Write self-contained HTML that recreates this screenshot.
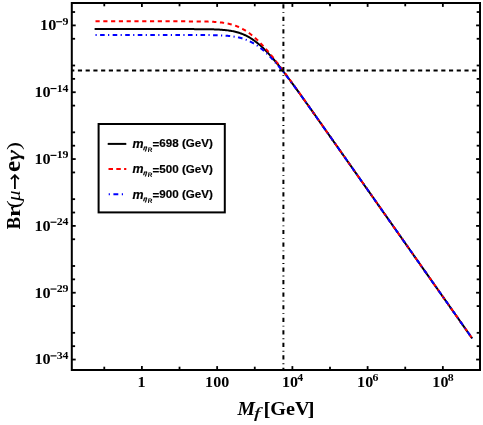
<!DOCTYPE html>
<html><head><meta charset="utf-8"><title>plot</title>
<style>
html,body{margin:0;padding:0;background:#fff;}
body{width:483px;height:425px;overflow:hidden;font-family:"Liberation Serif",serif;}
svg{display:block;will-change:transform;}
</style></head><body>
<svg width="483" height="425" viewBox="0 0 483 425">
<rect x="0" y="0" width="483" height="425" fill="#fff"/>
<defs><clipPath id="pc"><rect x="71.8" y="3.0" width="408.2" height="367.0"/></clipPath></defs>
<g clip-path="url(#pc)" fill="none">
<path d="M94.60,29.10 L95.54,29.10 L96.49,29.10 L97.43,29.10 L98.38,29.10 L99.32,29.10 L100.26,29.10 L101.21,29.10 L102.15,29.10 L103.10,29.10 L104.04,29.10 L104.98,29.10 L105.93,29.10 L106.87,29.10 L107.82,29.10 L108.76,29.10 L109.70,29.10 L110.65,29.10 L111.59,29.10 L112.54,29.10 L113.48,29.10 L114.42,29.10 L115.37,29.10 L116.31,29.10 L117.26,29.10 L118.20,29.10 L119.14,29.10 L120.09,29.10 L121.03,29.10 L121.98,29.10 L122.92,29.10 L123.86,29.10 L124.81,29.10 L125.75,29.10 L126.70,29.10 L127.64,29.10 L128.58,29.10 L129.53,29.10 L130.47,29.10 L131.42,29.10 L132.36,29.10 L133.30,29.10 L134.25,29.10 L135.19,29.10 L136.14,29.10 L137.08,29.10 L138.02,29.10 L138.97,29.10 L139.91,29.10 L140.86,29.10 L141.80,29.10 L142.74,29.10 L143.69,29.10 L144.63,29.10 L145.58,29.10 L146.52,29.10 L147.46,29.10 L148.41,29.10 L149.35,29.10 L150.30,29.10 L151.24,29.10 L152.18,29.10 L153.13,29.10 L154.07,29.10 L155.02,29.10 L155.96,29.10 L156.90,29.10 L157.85,29.10 L158.79,29.10 L159.74,29.10 L160.68,29.10 L161.62,29.10 L162.57,29.10 L163.51,29.10 L164.46,29.10 L165.40,29.10 L166.34,29.10 L167.29,29.10 L168.23,29.10 L169.18,29.10 L170.12,29.10 L171.06,29.10 L172.01,29.10 L172.95,29.10 L173.90,29.10 L174.84,29.10 L175.78,29.10 L176.73,29.10 L177.67,29.10 L178.62,29.10 L179.56,29.10 L180.50,29.10 L181.45,29.10 L182.39,29.10 L183.34,29.10 L184.28,29.10 L185.22,29.10 L186.17,29.11 L187.11,29.11 L188.06,29.11 L189.00,29.11 L189.94,29.11 L190.89,29.11 L191.83,29.12 L192.78,29.12 L193.72,29.12 L194.66,29.13 L195.61,29.13 L196.55,29.13 L197.50,29.14 L198.44,29.14 L199.38,29.15 L200.33,29.15 L201.27,29.16 L202.22,29.17 L203.16,29.18 L204.10,29.19 L205.05,29.20 L205.99,29.21 L206.94,29.22 L207.88,29.24 L208.82,29.26 L209.77,29.28 L210.71,29.30 L211.66,29.32 L212.60,29.34 L213.54,29.37 L214.49,29.40 L215.43,29.44 L216.38,29.48 L217.32,29.52 L218.26,29.57 L219.21,29.62 L220.15,29.68 L221.10,29.74 L222.04,29.81 L222.98,29.88 L223.93,29.97 L224.87,30.06 L225.82,30.16 L226.76,30.26 L227.70,30.38 L228.65,30.51 L229.59,30.65 L230.54,30.80 L231.48,30.96 L232.42,31.14 L233.37,31.33 L234.31,31.54 L235.26,31.76 L236.20,32.00 L237.14,32.25 L238.09,32.53 L239.03,32.82 L239.98,33.13 L240.92,33.46 L241.86,33.81 L242.81,34.19 L243.75,34.58 L244.70,35.00 L245.64,35.44 L246.58,35.91 L247.53,36.40 L248.47,36.91 L249.42,37.45 L250.36,38.01 L251.30,38.60 L252.25,39.21 L253.19,39.85 L254.14,40.52 L255.08,41.20 L256.02,41.92 L256.97,42.66 L257.91,43.42 L258.86,44.21 L259.80,45.02 L260.74,45.86 L261.69,46.72 L262.63,47.60 L263.58,48.50 L264.52,49.43 L265.46,50.37 L266.41,51.34 L267.35,52.33 L268.30,53.33 L269.24,54.36 L270.18,55.40 L271.13,56.46 L272.07,57.54 L273.02,58.63 L273.96,59.74 L274.90,60.86 L275.85,61.99 L276.79,63.14 L277.74,64.30 L278.68,65.47 L279.62,66.66 L280.57,67.85 L281.51,69.06 L282.46,70.27 L283.40,71.49 L284.34,72.73 L285.29,73.97 L286.23,75.21 L287.18,76.47 L288.12,77.73 L289.06,78.99 L290.01,80.26 L290.95,81.54 L291.90,82.82 L292.84,84.11 L293.78,85.40 L294.73,86.70 L295.67,88.00 L296.62,89.30 L297.56,90.60 L298.50,91.91 L299.45,93.22 L300.39,94.54 L301.34,95.85 L302.28,97.17 L303.22,98.49 L304.17,99.81 L305.11,101.14 L306.06,102.46 L307.00,103.79 L307.94,105.12 L308.89,106.45 L309.83,107.78 L310.78,109.11 L311.72,110.44 L312.66,111.77 L313.61,113.11 L314.55,114.44 L315.50,115.78 L316.44,117.11 L317.38,118.45 L318.33,119.78 L319.27,121.12 L320.22,122.46 L321.16,123.80 L322.10,125.13 L323.05,126.47 L323.99,127.81 L324.94,129.15 L325.88,130.49 L326.82,131.83 L327.77,133.17 L328.71,134.51 L329.66,135.85 L330.60,137.19 L331.54,138.53 L332.49,139.87 L333.43,141.21 L334.38,142.55 L335.32,143.89 L336.26,145.23 L337.21,146.57 L338.15,147.92 L339.10,149.26 L340.04,150.60 L340.98,151.94 L341.93,153.28 L342.87,154.62 L343.82,155.96 L344.76,157.30 L345.70,158.64 L346.65,159.99 L347.59,161.33 L348.54,162.67 L349.48,164.01 L350.42,165.35 L351.37,166.69 L352.31,168.03 L353.26,169.38 L354.20,170.72 L355.14,172.06 L356.09,173.40 L357.03,174.74 L357.98,176.08 L358.92,177.42 L359.86,178.77 L360.81,180.11 L361.75,181.45 L362.70,182.79 L363.64,184.13 L364.58,185.47 L365.53,186.82 L366.47,188.16 L367.42,189.50 L368.36,190.84 L369.30,192.18 L370.25,193.52 L371.19,194.86 L372.14,196.21 L373.08,197.55 L374.02,198.89 L374.97,200.23 L375.91,201.57 L376.86,202.91 L377.80,204.26 L378.74,205.60 L379.69,206.94 L380.63,208.28 L381.58,209.62 L382.52,210.96 L383.46,212.31 L384.41,213.65 L385.35,214.99 L386.30,216.33 L387.24,217.67 L388.18,219.01 L389.13,220.35 L390.07,221.70 L391.02,223.04 L391.96,224.38 L392.90,225.72 L393.85,227.06 L394.79,228.40 L395.74,229.75 L396.68,231.09 L397.62,232.43 L398.57,233.77 L399.51,235.11 L400.46,236.45 L401.40,237.80 L402.34,239.14 L403.29,240.48 L404.23,241.82 L405.18,243.16 L406.12,244.50 L407.06,245.84 L408.01,247.19 L408.95,248.53 L409.90,249.87 L410.84,251.21 L411.78,252.55 L412.73,253.89 L413.67,255.24 L414.62,256.58 L415.56,257.92 L416.50,259.26 L417.45,260.60 L418.39,261.94 L419.34,263.29 L420.28,264.63 L421.22,265.97 L422.17,267.31 L423.11,268.65 L424.06,269.99 L425.00,271.33 L425.94,272.68 L426.89,274.02 L427.83,275.36 L428.78,276.70 L429.72,278.04 L430.66,279.38 L431.61,280.73 L432.55,282.07 L433.50,283.41 L434.44,284.75 L435.38,286.09 L436.33,287.43 L437.27,288.77 L438.22,290.12 L439.16,291.46 L440.10,292.80 L441.05,294.14 L441.99,295.48 L442.94,296.82 L443.88,298.17 L444.82,299.51 L445.77,300.85 L446.71,302.19 L447.66,303.53 L448.60,304.87 L449.54,306.22 L450.49,307.56 L451.43,308.90 L452.38,310.24 L453.32,311.58 L454.26,312.92 L455.21,314.26 L456.15,315.61 L457.10,316.95 L458.04,318.29 L458.98,319.63 L459.93,320.97 L460.87,322.31 L461.82,323.66 L462.76,325.00 L463.70,326.34 L464.65,327.68 L465.59,329.02 L466.54,330.36 L467.48,331.71 L468.42,333.05 L469.37,334.39 L470.31,335.73 L471.26,337.07 L472.20,338.41" stroke="#000" stroke-width="2" stroke-linejoin="round"/>
<path d="M94.60,21.35 L95.54,21.35 L96.49,21.35 L97.43,21.35 L98.38,21.35 L99.32,21.35 L100.26,21.35 L101.21,21.35 L102.15,21.35 L103.10,21.35 L104.04,21.35 L104.98,21.35 L105.93,21.35 L106.87,21.35 L107.82,21.35 L108.76,21.35 L109.70,21.35 L110.65,21.35 L111.59,21.35 L112.54,21.35 L113.48,21.35 L114.42,21.35 L115.37,21.35 L116.31,21.35 L117.26,21.35 L118.20,21.35 L119.14,21.35 L120.09,21.35 L121.03,21.35 L121.98,21.35 L122.92,21.35 L123.86,21.35 L124.81,21.35 L125.75,21.35 L126.70,21.35 L127.64,21.35 L128.58,21.35 L129.53,21.35 L130.47,21.35 L131.42,21.35 L132.36,21.35 L133.30,21.35 L134.25,21.35 L135.19,21.35 L136.14,21.35 L137.08,21.35 L138.02,21.35 L138.97,21.35 L139.91,21.35 L140.86,21.35 L141.80,21.35 L142.74,21.35 L143.69,21.35 L144.63,21.35 L145.58,21.35 L146.52,21.35 L147.46,21.35 L148.41,21.35 L149.35,21.35 L150.30,21.35 L151.24,21.35 L152.18,21.35 L153.13,21.35 L154.07,21.35 L155.02,21.35 L155.96,21.35 L156.90,21.35 L157.85,21.35 L158.79,21.35 L159.74,21.35 L160.68,21.35 L161.62,21.35 L162.57,21.35 L163.51,21.35 L164.46,21.35 L165.40,21.35 L166.34,21.35 L167.29,21.35 L168.23,21.35 L169.18,21.35 L170.12,21.35 L171.06,21.35 L172.01,21.35 L172.95,21.35 L173.90,21.35 L174.84,21.35 L175.78,21.36 L176.73,21.36 L177.67,21.36 L178.62,21.36 L179.56,21.36 L180.50,21.36 L181.45,21.36 L182.39,21.36 L183.34,21.36 L184.28,21.37 L185.22,21.37 L186.17,21.37 L187.11,21.37 L188.06,21.38 L189.00,21.38 L189.94,21.38 L190.89,21.39 L191.83,21.39 L192.78,21.40 L193.72,21.40 L194.66,21.41 L195.61,21.41 L196.55,21.42 L197.50,21.43 L198.44,21.44 L199.38,21.45 L200.33,21.46 L201.27,21.48 L202.22,21.49 L203.16,21.51 L204.10,21.52 L205.05,21.54 L205.99,21.57 L206.94,21.59 L207.88,21.62 L208.82,21.65 L209.77,21.69 L210.71,21.72 L211.66,21.76 L212.60,21.81 L213.54,21.86 L214.49,21.92 L215.43,21.98 L216.38,22.05 L217.32,22.12 L218.26,22.20 L219.21,22.29 L220.15,22.39 L221.10,22.49 L222.04,22.61 L222.98,22.73 L223.93,22.87 L224.87,23.02 L225.82,23.18 L226.76,23.35 L227.70,23.54 L228.65,23.74 L229.59,23.96 L230.54,24.20 L231.48,24.45 L232.42,24.72 L233.37,25.00 L234.31,25.31 L235.26,25.64 L236.20,25.99 L237.14,26.35 L238.09,26.74 L239.03,27.16 L239.98,27.59 L240.92,28.05 L241.86,28.54 L242.81,29.05 L243.75,29.58 L244.70,30.14 L245.64,30.72 L246.58,31.33 L247.53,31.96 L248.47,32.62 L249.42,33.30 L250.36,34.01 L251.30,34.74 L252.25,35.50 L253.19,36.28 L254.14,37.09 L255.08,37.92 L256.02,38.77 L256.97,39.65 L257.91,40.55 L258.86,41.47 L259.80,42.41 L260.74,43.38 L261.69,44.36 L262.63,45.36 L263.58,46.38 L264.52,47.42 L265.46,48.47 L266.41,49.55 L267.35,50.64 L268.30,51.74 L269.24,52.86 L270.18,53.99 L271.13,55.13 L272.07,56.29 L273.02,57.46 L273.96,58.64 L274.90,59.84 L275.85,61.04 L276.79,62.25 L277.74,63.47 L278.68,64.70 L279.62,65.94 L280.57,67.18 L281.51,68.44 L282.46,69.69 L283.40,70.96 L284.34,72.23 L285.29,73.51 L286.23,74.79 L287.18,76.07 L288.12,77.36 L289.06,78.66 L290.01,79.96 L290.95,81.26 L291.90,82.56 L292.84,83.87 L293.78,85.18 L294.73,86.49 L295.67,87.81 L296.62,89.13 L297.56,90.45 L298.50,91.77 L299.45,93.09 L300.39,94.42 L301.34,95.74 L302.28,97.07 L303.22,98.40 L304.17,99.73 L305.11,101.06 L306.06,102.39 L307.00,103.72 L307.94,105.06 L308.89,106.39 L309.83,107.73 L310.78,109.06 L311.72,110.40 L312.66,111.74 L313.61,113.07 L314.55,114.41 L315.50,115.75 L316.44,117.09 L317.38,118.42 L318.33,119.76 L319.27,121.10 L320.22,122.44 L321.16,123.78 L322.10,125.12 L323.05,126.46 L323.99,127.80 L324.94,129.14 L325.88,130.48 L326.82,131.82 L327.77,133.16 L328.71,134.50 L329.66,135.84 L330.60,137.18 L331.54,138.53 L332.49,139.87 L333.43,141.21 L334.38,142.55 L335.32,143.89 L336.26,145.23 L337.21,146.57 L338.15,147.91 L339.10,149.25 L340.04,150.60 L340.98,151.94 L341.93,153.28 L342.87,154.62 L343.82,155.96 L344.76,157.30 L345.70,158.64 L346.65,159.99 L347.59,161.33 L348.54,162.67 L349.48,164.01 L350.42,165.35 L351.37,166.69 L352.31,168.03 L353.26,169.38 L354.20,170.72 L355.14,172.06 L356.09,173.40 L357.03,174.74 L357.98,176.08 L358.92,177.42 L359.86,178.77 L360.81,180.11 L361.75,181.45 L362.70,182.79 L363.64,184.13 L364.58,185.47 L365.53,186.82 L366.47,188.16 L367.42,189.50 L368.36,190.84 L369.30,192.18 L370.25,193.52 L371.19,194.86 L372.14,196.21 L373.08,197.55 L374.02,198.89 L374.97,200.23 L375.91,201.57 L376.86,202.91 L377.80,204.26 L378.74,205.60 L379.69,206.94 L380.63,208.28 L381.58,209.62 L382.52,210.96 L383.46,212.31 L384.41,213.65 L385.35,214.99 L386.30,216.33 L387.24,217.67 L388.18,219.01 L389.13,220.35 L390.07,221.70 L391.02,223.04 L391.96,224.38 L392.90,225.72 L393.85,227.06 L394.79,228.40 L395.74,229.75 L396.68,231.09 L397.62,232.43 L398.57,233.77 L399.51,235.11 L400.46,236.45 L401.40,237.80 L402.34,239.14 L403.29,240.48 L404.23,241.82 L405.18,243.16 L406.12,244.50 L407.06,245.84 L408.01,247.19 L408.95,248.53 L409.90,249.87 L410.84,251.21 L411.78,252.55 L412.73,253.89 L413.67,255.24 L414.62,256.58 L415.56,257.92 L416.50,259.26 L417.45,260.60 L418.39,261.94 L419.34,263.29 L420.28,264.63 L421.22,265.97 L422.17,267.31 L423.11,268.65 L424.06,269.99 L425.00,271.33 L425.94,272.68 L426.89,274.02 L427.83,275.36 L428.78,276.70 L429.72,278.04 L430.66,279.38 L431.61,280.73 L432.55,282.07 L433.50,283.41 L434.44,284.75 L435.38,286.09 L436.33,287.43 L437.27,288.77 L438.22,290.12 L439.16,291.46 L440.10,292.80 L441.05,294.14 L441.99,295.48 L442.94,296.82 L443.88,298.17 L444.82,299.51 L445.77,300.85 L446.71,302.19 L447.66,303.53 L448.60,304.87 L449.54,306.22 L450.49,307.56 L451.43,308.90 L452.38,310.24 L453.32,311.58 L454.26,312.92 L455.21,314.26 L456.15,315.61 L457.10,316.95 L458.04,318.29 L458.98,319.63 L459.93,320.97 L460.87,322.31 L461.82,323.66 L462.76,325.00 L463.70,326.34 L464.65,327.68 L465.59,329.02 L466.54,330.36 L467.48,331.71 L468.42,333.05 L469.37,334.39 L470.31,335.73 L471.26,337.07 L472.20,338.41" stroke="#f00" stroke-width="2" stroke-dasharray="4.2 3.58" stroke-dashoffset="-0.9" stroke-linejoin="round"/>
<path d="M94.60,35.00 L95.54,35.00 L96.49,35.00 L97.43,35.00 L98.38,35.00 L99.32,35.00 L100.26,35.00 L101.21,35.00 L102.15,35.00 L103.10,35.00 L104.04,35.00 L104.98,35.00 L105.93,35.00 L106.87,35.00 L107.82,35.00 L108.76,35.00 L109.70,35.00 L110.65,35.00 L111.59,35.00 L112.54,35.00 L113.48,35.00 L114.42,35.00 L115.37,35.00 L116.31,35.00 L117.26,35.00 L118.20,35.00 L119.14,35.00 L120.09,35.00 L121.03,35.00 L121.98,35.00 L122.92,35.00 L123.86,35.00 L124.81,35.00 L125.75,35.00 L126.70,35.00 L127.64,35.00 L128.58,35.00 L129.53,35.00 L130.47,35.00 L131.42,35.00 L132.36,35.00 L133.30,35.00 L134.25,35.00 L135.19,35.00 L136.14,35.00 L137.08,35.00 L138.02,35.00 L138.97,35.00 L139.91,35.00 L140.86,35.00 L141.80,35.00 L142.74,35.00 L143.69,35.00 L144.63,35.00 L145.58,35.00 L146.52,35.00 L147.46,35.00 L148.41,35.00 L149.35,35.00 L150.30,35.00 L151.24,35.00 L152.18,35.00 L153.13,35.00 L154.07,35.00 L155.02,35.00 L155.96,35.00 L156.90,35.00 L157.85,35.00 L158.79,35.00 L159.74,35.00 L160.68,35.00 L161.62,35.00 L162.57,35.00 L163.51,35.00 L164.46,35.00 L165.40,35.00 L166.34,35.00 L167.29,35.00 L168.23,35.00 L169.18,35.00 L170.12,35.00 L171.06,35.00 L172.01,35.00 L172.95,35.00 L173.90,35.00 L174.84,35.00 L175.78,35.00 L176.73,35.00 L177.67,35.00 L178.62,35.00 L179.56,35.00 L180.50,35.00 L181.45,35.00 L182.39,35.00 L183.34,35.00 L184.28,35.00 L185.22,35.00 L186.17,35.00 L187.11,35.00 L188.06,35.01 L189.00,35.01 L189.94,35.01 L190.89,35.01 L191.83,35.01 L192.78,35.01 L193.72,35.01 L194.66,35.02 L195.61,35.02 L196.55,35.02 L197.50,35.02 L198.44,35.03 L199.38,35.03 L200.33,35.03 L201.27,35.04 L202.22,35.04 L203.16,35.05 L204.10,35.05 L205.05,35.06 L205.99,35.07 L206.94,35.08 L207.88,35.09 L208.82,35.10 L209.77,35.11 L210.71,35.12 L211.66,35.14 L212.60,35.15 L213.54,35.17 L214.49,35.19 L215.43,35.21 L216.38,35.24 L217.32,35.26 L218.26,35.29 L219.21,35.33 L220.15,35.36 L221.10,35.40 L222.04,35.45 L222.98,35.50 L223.93,35.55 L224.87,35.61 L225.82,35.68 L226.76,35.75 L227.70,35.83 L228.65,35.92 L229.59,36.02 L230.54,36.12 L231.48,36.24 L232.42,36.36 L233.37,36.49 L234.31,36.64 L235.26,36.80 L236.20,36.97 L237.14,37.16 L238.09,37.36 L239.03,37.57 L239.98,37.80 L240.92,38.05 L241.86,38.32 L242.81,38.60 L243.75,38.90 L244.70,39.23 L245.64,39.57 L246.58,39.94 L247.53,40.32 L248.47,40.73 L249.42,41.16 L250.36,41.62 L251.30,42.10 L252.25,42.60 L253.19,43.13 L254.14,43.68 L255.08,44.26 L256.02,44.87 L256.97,45.50 L257.91,46.15 L258.86,46.83 L259.80,47.53 L260.74,48.26 L261.69,49.02 L262.63,49.79 L263.58,50.60 L264.52,51.42 L265.46,52.27 L266.41,53.15 L267.35,54.04 L268.30,54.96 L269.24,55.90 L270.18,56.86 L271.13,57.83 L272.07,58.83 L273.02,59.85 L273.96,60.89 L274.90,61.94 L275.85,63.01 L276.79,64.09 L277.74,65.19 L278.68,66.31 L279.62,67.44 L280.57,68.58 L281.51,69.74 L282.46,70.91 L283.40,72.09 L284.34,73.28 L285.29,74.48 L286.23,75.69 L287.18,76.91 L288.12,78.14 L289.06,79.37 L290.01,80.62 L290.95,81.87 L291.90,83.12 L292.84,84.39 L293.78,85.66 L294.73,86.93 L295.67,88.21 L296.62,89.50 L297.56,90.79 L298.50,92.08 L299.45,93.38 L300.39,94.68 L301.34,95.98 L302.28,97.29 L303.22,98.60 L304.17,99.91 L305.11,101.23 L306.06,102.55 L307.00,103.87 L307.94,105.19 L308.89,106.51 L309.83,107.84 L310.78,109.16 L311.72,110.49 L312.66,111.82 L313.61,113.15 L314.55,114.48 L315.50,115.81 L316.44,117.14 L317.38,118.48 L318.33,119.81 L319.27,121.14 L320.22,122.48 L321.16,123.82 L322.10,125.15 L323.05,126.49 L323.99,127.83 L324.94,129.16 L325.88,130.50 L326.82,131.84 L327.77,133.18 L328.71,134.52 L329.66,135.86 L330.60,137.20 L331.54,138.54 L332.49,139.88 L333.43,141.22 L334.38,142.56 L335.32,143.90 L336.26,145.24 L337.21,146.58 L338.15,147.92 L339.10,149.26 L340.04,150.60 L340.98,151.94 L341.93,153.28 L342.87,154.62 L343.82,155.96 L344.76,157.31 L345.70,158.65 L346.65,159.99 L347.59,161.33 L348.54,162.67 L349.48,164.01 L350.42,165.35 L351.37,166.69 L352.31,168.04 L353.26,169.38 L354.20,170.72 L355.14,172.06 L356.09,173.40 L357.03,174.74 L357.98,176.08 L358.92,177.43 L359.86,178.77 L360.81,180.11 L361.75,181.45 L362.70,182.79 L363.64,184.13 L364.58,185.47 L365.53,186.82 L366.47,188.16 L367.42,189.50 L368.36,190.84 L369.30,192.18 L370.25,193.52 L371.19,194.87 L372.14,196.21 L373.08,197.55 L374.02,198.89 L374.97,200.23 L375.91,201.57 L376.86,202.91 L377.80,204.26 L378.74,205.60 L379.69,206.94 L380.63,208.28 L381.58,209.62 L382.52,210.96 L383.46,212.31 L384.41,213.65 L385.35,214.99 L386.30,216.33 L387.24,217.67 L388.18,219.01 L389.13,220.35 L390.07,221.70 L391.02,223.04 L391.96,224.38 L392.90,225.72 L393.85,227.06 L394.79,228.40 L395.74,229.75 L396.68,231.09 L397.62,232.43 L398.57,233.77 L399.51,235.11 L400.46,236.45 L401.40,237.80 L402.34,239.14 L403.29,240.48 L404.23,241.82 L405.18,243.16 L406.12,244.50 L407.06,245.84 L408.01,247.19 L408.95,248.53 L409.90,249.87 L410.84,251.21 L411.78,252.55 L412.73,253.89 L413.67,255.24 L414.62,256.58 L415.56,257.92 L416.50,259.26 L417.45,260.60 L418.39,261.94 L419.34,263.29 L420.28,264.63 L421.22,265.97 L422.17,267.31 L423.11,268.65 L424.06,269.99 L425.00,271.33 L425.94,272.68 L426.89,274.02 L427.83,275.36 L428.78,276.70 L429.72,278.04 L430.66,279.38 L431.61,280.73 L432.55,282.07 L433.50,283.41 L434.44,284.75 L435.38,286.09 L436.33,287.43 L437.27,288.77 L438.22,290.12 L439.16,291.46 L440.10,292.80 L441.05,294.14 L441.99,295.48 L442.94,296.82 L443.88,298.17 L444.82,299.51 L445.77,300.85 L446.71,302.19 L447.66,303.53 L448.60,304.87 L449.54,306.22 L450.49,307.56 L451.43,308.90 L452.38,310.24 L453.32,311.58 L454.26,312.92 L455.21,314.26 L456.15,315.61 L457.10,316.95 L458.04,318.29 L458.98,319.63 L459.93,320.97 L460.87,322.31 L461.82,323.66 L462.76,325.00 L463.70,326.34 L464.65,327.68 L465.59,329.02 L466.54,330.36 L467.48,331.71 L468.42,333.05 L469.37,334.39 L470.31,335.73 L471.26,337.07 L472.20,338.41" stroke="#00f" stroke-width="2" stroke-dasharray="1.2 3.4 4.6 3.35" stroke-dashoffset="-0.9" stroke-linejoin="round"/>
<line x1="70.17" y1="70.5" x2="480.0" y2="70.5" stroke="#000" stroke-width="2" stroke-dasharray="4.15 3.581"/>
<line x1="283.4" y1="-8.34" x2="283.4" y2="370.0" stroke="#000" stroke-width="2" stroke-dasharray="4.2 3.8 0.9 3.64"/>
</g>
<rect x="98.6" y="124" width="126.2" height="88.4" fill="#fff" stroke="#000" stroke-width="2"/><line x1="107.7" y1="143.9" x2="126.3" y2="143.9" stroke="#000" stroke-width="2"/><text x="132.4" y="147.70" font-family="Liberation Sans, sans-serif" font-weight="bold" font-size="12.4" font-style="italic" stroke="#000" stroke-width="0.2">m</text><text transform="translate(142.7,149.90) skewX(-18)" font-family="Liberation Sans, sans-serif" font-weight="bold" font-size="6.4" stroke="#000" stroke-width="0.3">η</text><text transform="translate(147.4,151.60) skewX(-6)" font-family="Liberation Sans, sans-serif" font-weight="bold" font-size="6.5">R</text><text x="152.6" y="148.00" font-family="Liberation Sans, sans-serif" font-weight="bold" font-size="11.6" stroke="#000" stroke-width="0.18">=</text><text x="159.37" y="147.20" font-family="Liberation Sans, sans-serif" font-weight="bold" font-size="11.6" stroke="#000" stroke-width="0.18">698 (GeV)</text><line x1="107.7" y1="169.0" x2="126.3" y2="169.0" stroke="#f00" stroke-width="2" stroke-dasharray="4.5 3.3" stroke-dashoffset="-0.8"/><text x="132.4" y="173.20" font-family="Liberation Sans, sans-serif" font-weight="bold" font-size="12.4" font-style="italic" stroke="#000" stroke-width="0.2">m</text><text transform="translate(142.7,175.40) skewX(-18)" font-family="Liberation Sans, sans-serif" font-weight="bold" font-size="6.4" stroke="#000" stroke-width="0.3">η</text><text transform="translate(147.4,177.10) skewX(-6)" font-family="Liberation Sans, sans-serif" font-weight="bold" font-size="6.5">R</text><text x="152.6" y="173.50" font-family="Liberation Sans, sans-serif" font-weight="bold" font-size="11.6" stroke="#000" stroke-width="0.18">=</text><text x="159.37" y="172.70" font-family="Liberation Sans, sans-serif" font-weight="bold" font-size="11.6" stroke="#000" stroke-width="0.18">500 (GeV)</text><line x1="107.7" y1="194.3" x2="126.3" y2="194.3" stroke="#00f" stroke-width="2" stroke-dasharray="1.2 3.5 4.9 3.5" stroke-dashoffset="-1.0"/><text x="132.4" y="198.70" font-family="Liberation Sans, sans-serif" font-weight="bold" font-size="12.4" font-style="italic" stroke="#000" stroke-width="0.2">m</text><text transform="translate(142.7,200.90) skewX(-18)" font-family="Liberation Sans, sans-serif" font-weight="bold" font-size="6.4" stroke="#000" stroke-width="0.3">η</text><text transform="translate(147.4,202.60) skewX(-6)" font-family="Liberation Sans, sans-serif" font-weight="bold" font-size="6.5">R</text><text x="152.6" y="199.00" font-family="Liberation Sans, sans-serif" font-weight="bold" font-size="11.6" stroke="#000" stroke-width="0.18">=</text><text x="159.37" y="198.20" font-family="Liberation Sans, sans-serif" font-weight="bold" font-size="11.6" stroke="#000" stroke-width="0.18">900 (GeV)</text>
<line x1="71.80" y1="359.55" x2="75.70" y2="359.55" stroke="#000" stroke-width="1.8"/><line x1="480.00" y1="359.55" x2="476.10" y2="359.55" stroke="#000" stroke-width="1.8"/><line x1="71.80" y1="346.18" x2="75.10" y2="346.18" stroke="#000" stroke-width="1.8"/><line x1="480.00" y1="346.18" x2="476.70" y2="346.18" stroke="#000" stroke-width="1.8"/><line x1="71.80" y1="332.82" x2="75.10" y2="332.82" stroke="#000" stroke-width="1.8"/><line x1="480.00" y1="332.82" x2="476.70" y2="332.82" stroke="#000" stroke-width="1.8"/><line x1="71.80" y1="306.09" x2="75.10" y2="306.09" stroke="#000" stroke-width="1.8"/><line x1="480.00" y1="306.09" x2="476.70" y2="306.09" stroke="#000" stroke-width="1.8"/><line x1="71.80" y1="292.72" x2="75.70" y2="292.72" stroke="#000" stroke-width="1.8"/><line x1="480.00" y1="292.72" x2="476.10" y2="292.72" stroke="#000" stroke-width="1.8"/><line x1="71.80" y1="279.35" x2="75.10" y2="279.35" stroke="#000" stroke-width="1.8"/><line x1="480.00" y1="279.35" x2="476.70" y2="279.35" stroke="#000" stroke-width="1.8"/><line x1="71.80" y1="265.99" x2="75.10" y2="265.99" stroke="#000" stroke-width="1.8"/><line x1="480.00" y1="265.99" x2="476.70" y2="265.99" stroke="#000" stroke-width="1.8"/><line x1="71.80" y1="239.26" x2="75.10" y2="239.26" stroke="#000" stroke-width="1.8"/><line x1="480.00" y1="239.26" x2="476.70" y2="239.26" stroke="#000" stroke-width="1.8"/><line x1="71.80" y1="225.89" x2="75.70" y2="225.89" stroke="#000" stroke-width="1.8"/><line x1="480.00" y1="225.89" x2="476.10" y2="225.89" stroke="#000" stroke-width="1.8"/><line x1="71.80" y1="212.52" x2="75.10" y2="212.52" stroke="#000" stroke-width="1.8"/><line x1="480.00" y1="212.52" x2="476.70" y2="212.52" stroke="#000" stroke-width="1.8"/><line x1="71.80" y1="199.16" x2="75.10" y2="199.16" stroke="#000" stroke-width="1.8"/><line x1="480.00" y1="199.16" x2="476.70" y2="199.16" stroke="#000" stroke-width="1.8"/><line x1="71.80" y1="172.43" x2="75.10" y2="172.43" stroke="#000" stroke-width="1.8"/><line x1="480.00" y1="172.43" x2="476.70" y2="172.43" stroke="#000" stroke-width="1.8"/><line x1="71.80" y1="159.06" x2="75.70" y2="159.06" stroke="#000" stroke-width="1.8"/><line x1="480.00" y1="159.06" x2="476.10" y2="159.06" stroke="#000" stroke-width="1.8"/><line x1="71.80" y1="145.69" x2="75.10" y2="145.69" stroke="#000" stroke-width="1.8"/><line x1="480.00" y1="145.69" x2="476.70" y2="145.69" stroke="#000" stroke-width="1.8"/><line x1="71.80" y1="132.33" x2="75.10" y2="132.33" stroke="#000" stroke-width="1.8"/><line x1="480.00" y1="132.33" x2="476.70" y2="132.33" stroke="#000" stroke-width="1.8"/><line x1="71.80" y1="105.60" x2="75.10" y2="105.60" stroke="#000" stroke-width="1.8"/><line x1="480.00" y1="105.60" x2="476.70" y2="105.60" stroke="#000" stroke-width="1.8"/><line x1="71.80" y1="92.23" x2="75.70" y2="92.23" stroke="#000" stroke-width="1.8"/><line x1="480.00" y1="92.23" x2="476.10" y2="92.23" stroke="#000" stroke-width="1.8"/><line x1="71.80" y1="78.86" x2="75.10" y2="78.86" stroke="#000" stroke-width="1.8"/><line x1="480.00" y1="78.86" x2="476.70" y2="78.86" stroke="#000" stroke-width="1.8"/><line x1="71.80" y1="65.50" x2="75.10" y2="65.50" stroke="#000" stroke-width="1.8"/><line x1="480.00" y1="65.50" x2="476.70" y2="65.50" stroke="#000" stroke-width="1.8"/><line x1="71.80" y1="38.77" x2="75.10" y2="38.77" stroke="#000" stroke-width="1.8"/><line x1="480.00" y1="38.77" x2="476.70" y2="38.77" stroke="#000" stroke-width="1.8"/><line x1="71.80" y1="25.40" x2="75.70" y2="25.40" stroke="#000" stroke-width="1.8"/><line x1="480.00" y1="25.40" x2="476.10" y2="25.40" stroke="#000" stroke-width="1.8"/><line x1="71.80" y1="12.03" x2="75.10" y2="12.03" stroke="#000" stroke-width="1.8"/><line x1="480.00" y1="12.03" x2="476.70" y2="12.03" stroke="#000" stroke-width="1.8"/><line x1="104.28" y1="370.00" x2="104.28" y2="366.70" stroke="#000" stroke-width="1.8"/><line x1="104.28" y1="3.00" x2="104.28" y2="6.30" stroke="#000" stroke-width="1.8"/><line x1="141.90" y1="370.00" x2="141.90" y2="366.10" stroke="#000" stroke-width="1.8"/><line x1="141.90" y1="3.00" x2="141.90" y2="6.90" stroke="#000" stroke-width="1.8"/><line x1="179.52" y1="370.00" x2="179.52" y2="366.70" stroke="#000" stroke-width="1.8"/><line x1="179.52" y1="3.00" x2="179.52" y2="6.30" stroke="#000" stroke-width="1.8"/><line x1="217.14" y1="370.00" x2="217.14" y2="366.10" stroke="#000" stroke-width="1.8"/><line x1="217.14" y1="3.00" x2="217.14" y2="6.90" stroke="#000" stroke-width="1.8"/><line x1="254.76" y1="370.00" x2="254.76" y2="366.70" stroke="#000" stroke-width="1.8"/><line x1="254.76" y1="3.00" x2="254.76" y2="6.30" stroke="#000" stroke-width="1.8"/><line x1="292.38" y1="370.00" x2="292.38" y2="366.10" stroke="#000" stroke-width="1.8"/><line x1="292.38" y1="3.00" x2="292.38" y2="6.90" stroke="#000" stroke-width="1.8"/><line x1="330.00" y1="370.00" x2="330.00" y2="366.70" stroke="#000" stroke-width="1.8"/><line x1="330.00" y1="3.00" x2="330.00" y2="6.30" stroke="#000" stroke-width="1.8"/><line x1="367.62" y1="370.00" x2="367.62" y2="366.10" stroke="#000" stroke-width="1.8"/><line x1="367.62" y1="3.00" x2="367.62" y2="6.90" stroke="#000" stroke-width="1.8"/><line x1="405.24" y1="370.00" x2="405.24" y2="366.70" stroke="#000" stroke-width="1.8"/><line x1="405.24" y1="3.00" x2="405.24" y2="6.30" stroke="#000" stroke-width="1.8"/><line x1="442.86" y1="370.00" x2="442.86" y2="366.10" stroke="#000" stroke-width="1.8"/><line x1="442.86" y1="3.00" x2="442.86" y2="6.90" stroke="#000" stroke-width="1.8"/>
<rect x="71.8" y="3.0" width="408.2" height="367.0" fill="none" stroke="#000" stroke-width="2"/>
<text transform="translate(68.50,24.70) scale(1.08,1.0)" text-anchor="end" font-family="Liberation Serif, serif" font-weight="bold" font-size="11">9</text><rect x="56.15" y="21.15" width="6.0" height="1.15" fill="#000"/><text transform="translate(56.25,30.20) scale(1.08,1.0)" text-anchor="end" font-family="Liberation Serif, serif" font-weight="bold" font-size="15">10</text><text transform="translate(68.50,91.53) scale(1.08,1.0)" text-anchor="end" font-family="Liberation Serif, serif" font-weight="bold" font-size="11">14</text><rect x="50.50" y="87.98" width="6.0" height="1.15" fill="#000"/><text transform="translate(50.60,97.03) scale(1.08,1.0)" text-anchor="end" font-family="Liberation Serif, serif" font-weight="bold" font-size="15">10</text><text transform="translate(68.50,158.36) scale(1.08,1.0)" text-anchor="end" font-family="Liberation Serif, serif" font-weight="bold" font-size="11">19</text><rect x="50.50" y="154.81" width="6.0" height="1.15" fill="#000"/><text transform="translate(50.60,163.86) scale(1.08,1.0)" text-anchor="end" font-family="Liberation Serif, serif" font-weight="bold" font-size="15">10</text><text transform="translate(68.50,225.19) scale(1.08,1.0)" text-anchor="end" font-family="Liberation Serif, serif" font-weight="bold" font-size="11">24</text><rect x="50.50" y="221.64" width="6.0" height="1.15" fill="#000"/><text transform="translate(50.60,230.69) scale(1.08,1.0)" text-anchor="end" font-family="Liberation Serif, serif" font-weight="bold" font-size="15">10</text><text transform="translate(68.50,292.02) scale(1.08,1.0)" text-anchor="end" font-family="Liberation Serif, serif" font-weight="bold" font-size="11">29</text><rect x="50.50" y="288.47" width="6.0" height="1.15" fill="#000"/><text transform="translate(50.60,297.52) scale(1.08,1.0)" text-anchor="end" font-family="Liberation Serif, serif" font-weight="bold" font-size="15">10</text><text transform="translate(68.50,358.85) scale(1.08,1.0)" text-anchor="end" font-family="Liberation Serif, serif" font-weight="bold" font-size="11">34</text><rect x="50.50" y="355.30" width="6.0" height="1.15" fill="#000"/><text transform="translate(50.60,364.35) scale(1.08,1.0)" text-anchor="end" font-family="Liberation Serif, serif" font-weight="bold" font-size="15">10</text><text transform="translate(141.40,386.60) scale(1.07,1.0)" text-anchor="middle" font-family="Liberation Serif, serif" font-weight="bold" font-size="15">1</text><text transform="translate(217.14,386.60) scale(1.07,1.0)" text-anchor="middle" font-family="Liberation Serif, serif" font-weight="bold" font-size="15">100</text><text transform="translate(281.88,386.60) scale(1.07,1.0)" text-anchor="start" font-family="Liberation Serif, serif" font-weight="bold" font-size="15">10</text><text transform="translate(297.28,381.00) scale(1.08,1.0)" text-anchor="start" font-family="Liberation Serif, serif" font-weight="bold" font-size="11">4</text><text transform="translate(357.12,386.60) scale(1.07,1.0)" text-anchor="start" font-family="Liberation Serif, serif" font-weight="bold" font-size="15">10</text><text transform="translate(372.52,381.00) scale(1.08,1.0)" text-anchor="start" font-family="Liberation Serif, serif" font-weight="bold" font-size="11">6</text><text transform="translate(432.36,386.60) scale(1.07,1.0)" text-anchor="start" font-family="Liberation Serif, serif" font-weight="bold" font-size="15">10</text><text transform="translate(447.76,381.00) scale(1.08,1.0)" text-anchor="start" font-family="Liberation Serif, serif" font-weight="bold" font-size="11">8</text>
<g transform="translate(20.1,229.3) rotate(-90)"><text transform="translate(0.00,0.00) scale(1.0,1.0)" text-anchor="start" font-family="Liberation Serif, serif" font-weight="bold" font-size="18.4">B</text><text transform="translate(12.30,0.00) scale(1.3,1.0)" text-anchor="start" font-family="Liberation Serif, serif" font-weight="bold" font-size="18.4">r</text><text transform="translate(21.00,0.20) scale(1.3,1.08)" text-anchor="start" font-family="Liberation Serif, serif" font-size="18.4">(</text><text transform="translate(28.20,0.00) scale(1.12,1.0)" text-anchor="start" font-family="Liberation Serif, serif" font-style="italic" font-size="18.8">μ</text><path d="M40.2,-5.2 H54.6" stroke="#000" stroke-width="1.8" fill="none"/><path d="M50.1,-9.2 L54.1,-5.2 L50.1,-1.2" stroke="#000" stroke-width="1.7" fill="none" stroke-linejoin="miter"/><text transform="translate(57.30,0.00) scale(1.12,1.0)" text-anchor="start" font-family="Liberation Serif, serif" font-weight="bold" font-size="22.5">e</text><text transform="translate(68.50,0.00) scale(1.4,1.0)" text-anchor="start" font-family="Liberation Serif, serif" font-style="italic" stroke="#000" stroke-width="0.35" font-size="18.4">γ</text><text transform="translate(79.20,0.20) scale(1.3,1.08)" text-anchor="start" font-family="Liberation Serif, serif" font-size="18.4">)</text></g>
<text transform="translate(237.60,414.60) scale(1.07,1.0)" text-anchor="start" font-family="Liberation Serif, serif" font-weight="bold" font-style="italic" font-size="18.4">M</text><text transform="translate(254.0,418.3) scale(1.55,1)" font-family="Liberation Serif, serif" font-style="italic" font-size="14.5" stroke="#000" stroke-width="0.2">f</text><text transform="translate(263.40,414.60) scale(1.15,1.0)" text-anchor="start" font-family="Liberation Serif, serif" font-weight="bold" font-size="18.4">[</text><text transform="translate(270.20,414.60) scale(1.1,1.0)" text-anchor="start" font-family="Liberation Serif, serif" font-weight="bold" font-size="18.4">GeV</text><text transform="translate(307.40,414.60) scale(1.15,1.0)" text-anchor="start" font-family="Liberation Serif, serif" font-weight="bold" font-size="18.4">]</text>
</svg>
</body></html>
